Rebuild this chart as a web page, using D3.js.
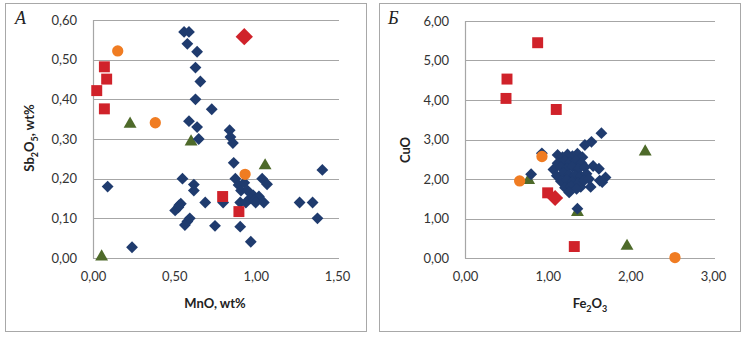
<!DOCTYPE html>
<html><head><meta charset="utf-8">
<script src="https://cdn.jsdelivr.net/npm/d3@7"></script>
<style>body{margin:0;background:#fff}svg{display:block}</style>
</head><body>
<script>
// ---- Panel A data: MnO (x) vs Sb2O5 (y), wt% ----
const aBlue = [[0.56,0.57],[0.59,0.57],[0.58,0.54],[0.64,0.52],[0.63,0.48],[0.66,0.445],[0.63,0.40],[0.73,0.375],
 [0.59,0.345],[0.64,0.33],[0.65,0.30],[0.84,0.322],[0.845,0.305],[0.86,0.29],[0.865,0.24],[1.41,0.222],[0.09,0.18],
 [0.24,0.027],[0.55,0.20],[0.62,0.185],[0.62,0.17],[0.69,0.14],[0.54,0.137],[0.525,0.128],[0.505,0.12],[0.53,0.133],
 [0.595,0.10],[0.58,0.092],[0.565,0.083],[0.75,0.081],[0.80,0.14],[0.875,0.20],[0.895,0.184],[0.91,0.17],[0.93,0.19],
 [1.04,0.20],[1.07,0.186],[0.985,0.158],[0.965,0.15],[0.95,0.17],[1.02,0.155],[0.905,0.14],[0.94,0.14],[0.99,0.145],
 [1.0,0.14],[1.05,0.14],[1.27,0.14],[1.35,0.14],[1.38,0.10],[0.905,0.079],[0.97,0.041]];
const aRedSquare = [[0.023,0.422],[0.07,0.482],[0.084,0.451],[0.07,0.376],[0.797,0.155],[0.897,0.117]];
const aRedDiamond = [[0.93,0.558]];
const aOrange = [[0.152,0.522],[0.383,0.341],[0.935,0.211]];
const aGreen = [[0.228,0.338],[0.603,0.293],[1.058,0.233],[0.053,0.003]];
const aXTicks = [0, 0.5, 1.0, 1.5];
const aYTicks = [0, 0.1, 0.2, 0.3, 0.4, 0.5, 0.6];

// ---- Panel Б data: Fe2O3 (x) vs CuO (y) ----
const bBlue = [[1.65,3.16],[1.53,2.94],[1.45,2.86],[1.12,2.61],[0.93,2.65],[0.80,2.12],[1.36,1.25],[1.70,2.04],
 [1.63,1.96],[1.55,2.33],[1.62,2.26],[1.52,1.80],[1.40,1.80],[1.66,1.92],
 [1.18,2.55],[1.24,2.62],[1.30,2.58],[1.36,2.64],[1.42,2.55],[1.12,2.40],[1.20,2.46],[1.27,2.42],[1.34,2.47],[1.41,2.40],
 [1.07,2.24],[1.16,2.30],[1.23,2.27],[1.30,2.31],[1.37,2.25],[1.45,2.30],[1.11,2.08],[1.19,2.15],[1.26,2.11],[1.33,2.09],
 [1.40,2.07],[1.47,2.13],[1.16,1.94],[1.23,1.98],[1.30,1.93],[1.37,1.90],[1.44,1.96],[1.21,1.78],[1.28,1.81],[1.35,1.75],
 [1.26,1.66],[1.50,2.00]];
const bRedSquare = [[0.879,5.45],[0.508,4.53],[0.496,4.04],[1.104,3.76],[1.322,0.29],[1.0,1.65]];
const bRedDiamond = [[1.09,1.52]];
const bOrange = [[0.931,2.57],[0.661,1.95],[2.54,0.01]];
const bGreen = [[2.18,2.69],[1.96,0.30],[0.77,1.97],[1.36,1.16]];
const bXTicks = [0, 1, 2, 3];
const bYTicks = [0, 1, 2, 3, 4, 5, 6];

const W = 744, H = 338;
const C = {blue:"#1f3b6e", red:"#d0222a", orange:"#f07c22", green:"#4e6a2a", grid:"#a6a6a6", border:"#a8a8a8"};
const fmt = d => d3.format(".2f")(d).replace(".", ",");

const svg = d3.select("body").append("svg").attr("width", W).attr("height", H)
  .style("font-family", "Lato, 'Open Sans', sans-serif");

function panel(cfg) {
  const g = svg.append("g");
  g.append("rect").attr("x", cfg.box[0]+0.5).attr("y", cfg.box[1]+0.5)
    .attr("width", cfg.box[2]).attr("height", cfg.box[3])
    .attr("fill", "#fff").attr("stroke", C.border).attr("stroke-width", 1);
  const x = d3.scaleLinear().domain(cfg.xDom).range([cfg.plot[0], cfg.plot[1]]);
  const y = d3.scaleLinear().domain(cfg.yDom).range([cfg.plot[3], cfg.plot[2]]);
  g.append("g").selectAll("line").data(cfg.yTicks).join("line")
    .attr("x1", cfg.plot[0]).attr("x2", cfg.plot[1] + 2)
    .attr("y1", d => Math.round(y(d)) + 0.5).attr("y2", d => Math.round(y(d)) + 0.5)
    .attr("stroke", C.grid).attr("stroke-width", 1.2);
  g.append("line").attr("x1", cfg.plot[0] + 0.5).attr("x2", cfg.plot[0] + 0.5)
    .attr("y1", cfg.plot[2]).attr("y2", cfg.plot[3] + 0.5)
    .attr("stroke", C.grid).attr("stroke-width", 1.2);
  const yAxis = d3.axisLeft(y).tickValues(cfg.yTicks).tickFormat(fmt).tickSize(0).tickPadding(16);
  const ya = g.append("g").attr("transform", `translate(${cfg.plot[0]},0)`).call(yAxis);
  const xAxis = d3.axisBottom(x).tickValues(cfg.xTicks).tickFormat(fmt).tickSize(0).tickPadding(14);
  const xa = g.append("g").attr("transform", `translate(0,${cfg.plot[3]})`).call(xAxis);
  [ya, xa].forEach(a => {
    a.select(".domain").remove();
    a.selectAll("text").attr("font-size", 13).attr("fill", "#333").style("font-family", "Lato, sans-serif");
  });

  const plotG = g.append("g");
  function draw(data, sym, size, color, rot) {
    plotG.append("g").selectAll("path").data(data).join("path")
      .attr("d", d3.symbol().type(sym).size(size)())
      .attr("transform", d => `translate(${x(d[0])},${y(d[1])})${rot ? " rotate(45)" : ""}`)
      .attr("fill", color);
  }
  draw(cfg.green, d3.symbolTriangle, 72, C.green, false);
  draw(cfg.blue, d3.symbolSquare, 70, C.blue, true);
  draw(cfg.redSq, d3.symbolSquare, 120, C.red, false);
  draw(cfg.redDi, d3.symbolSquare, cfg.bigDi, C.red, true);
  draw(cfg.orange, d3.symbolCircle, 100, C.orange, false);

  g.append("text").attr("x", cfg.letter[0]).attr("y", cfg.letter[1])
    .attr("font-family", "'Liberation Serif', serif").attr("font-style", "italic")
    .attr("font-size", 18).attr("fill", "#222").text(cfg.letterText);

  const xt = g.append("text").attr("x", cfg.xTitle[0]).attr("y", cfg.xTitle[1]).attr("text-anchor", "middle")
    .attr("font-weight", "bold").attr("font-size", 13).attr("fill", "#222");
  cfg.xTitleParts.forEach(p => {
    const t = xt.append("tspan").text(p[0]);
    if (p[1]) t.attr("font-size", 9).attr("dy", 4); else if (p[2]) t.attr("dy", -4);
  });
  const yt = g.append("text").attr("transform", `translate(${cfg.yTitle[0]},${cfg.yTitle[1]}) rotate(-90)`)
    .attr("text-anchor", "middle").attr("font-weight", "bold").attr("font-size", 13).attr("fill", "#222");
  cfg.yTitleParts.forEach(p => {
    const t = yt.append("tspan").text(p[0]);
    if (p[1]) t.attr("font-size", 9).attr("dy", 4); else if (p[2]) t.attr("dy", -4);
  });
}

panel({
  box: [5, 3, 361, 328], plot: [93, 337, 20, 258],
  xDom: [0, 1.5], yDom: [0, 0.6], xTicks: aXTicks, yTicks: aYTicks,
  blue: aBlue, redSq: aRedSquare, redDi: aRedDiamond, orange: aOrange, green: aGreen, bigDi: 150,
  letter: [15, 24], letterText: "A",
  xTitle: [215, 308], xTitleParts: [["MnO, wt%"]],
  yTitle: [34, 138], yTitleParts: [["Sb"], ["2", true], ["O", false, true], ["5", true], [", wt%", false, true]]
});
panel({
  box: [379, 3, 361, 328], plot: [465, 713, 21, 258],
  xDom: [0, 3], yDom: [0, 6], xTicks: bXTicks, yTicks: bYTicks,
  blue: bBlue, redSq: bRedSquare, redDi: bRedDiamond, orange: bOrange, green: bGreen, bigDi: 130,
  letter: [388, 24], letterText: "Б",
  xTitle: [590, 308], xTitleParts: [["Fe"], ["2", true], ["O", false, true], ["3", true]],
  yTitle: [410, 150], yTitleParts: [["CuO"]]
});
</script>
</body></html>
